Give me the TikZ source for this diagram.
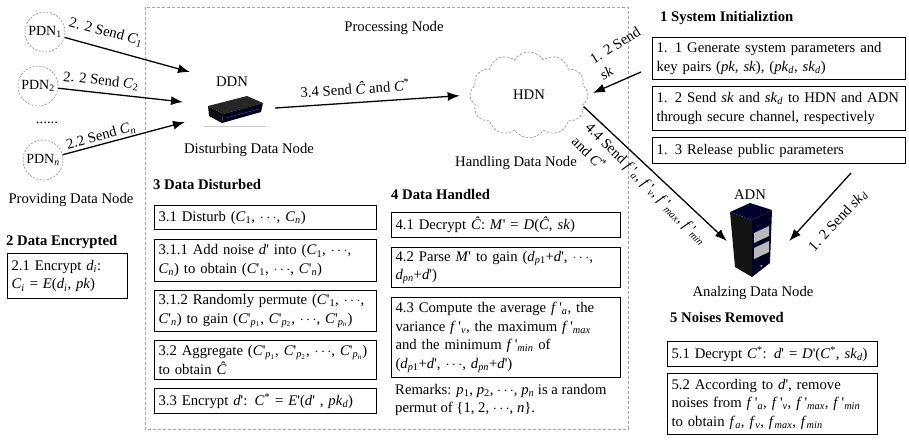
\documentclass[tikz,border=0pt]{standalone}
\usepackage{fontspec}
\setmainfont{Liberation Serif}
\usetikzlibrary{arrows.meta,shapes.symbols}

% inline notation helpers
\newcommand\itx[1]{\textit{#1}}
\newcommand\sbx[1]{\textsubscript{#1}}
\newcommand\spx[1]{\textsuperscript{#1}}
\newcommand\cds{\ensuremath{\cdots}}
\newcommand\prm{\textquotesingle}
\newcommand\cpx[1]{\itx{C}\prm\sbx{\itx{p}\sbx{#1}}}
\newcommand\fpx[1]{\itx{f}\,\prm\sbx{\itx{#1}}}
\newcommand\fs{\fontsize{14.7}{18.5}\selectfont}

\tikzset{
  box/.style={draw=black, line width=1.1pt, anchor=north west, align=left,
              inner xsep=4pt, inner ysep=1pt, font=\fs},
  hd/.style={anchor=west, font=\fs\bfseries, inner sep=0pt},
  pdn/.style={circle, draw=gray!75, dash pattern=on 2pt off 1.5pt, line width=0.7pt,
              minimum size=40pt, inner sep=0pt, font=\fontsize{14}{16}\selectfont},
  arr/.style={-{Latex[length=12pt,width=9pt]}, line width=1.3pt},
  lbl/.style={font=\fs, inner sep=1pt},
}

\begin{document}
\begin{tikzpicture}[x=1pt, y=-1pt, font=\fs]
\useasboundingbox (0,0) rectangle (909,440);

% processing region
\draw[gray!70, line width=0.8pt, dash pattern=on 3pt off 2pt] (145,7) rectangle (628,429);
\node (proc) at (394,28) {Processing Node};

% providing data nodes
\node[pdn] (p1) at (45,32) {PDN\sbx{1}};
\node[pdn] (p2) at (38,86) {PDN\sbx{2}};
\node (dots) at (47,123) {......};
\node[pdn] (pn) at (43,160) {PDN\sbx{\itx{n}}};
\node (pdnname) at (71,200) {Providing Data Node};

\coordinate (in1) at (190,72);
\coordinate (in2) at (183,102);
\coordinate (in3) at (185,122);
\draw[arr] (p1) -- (in1);
\draw[arr] (p2) -- (in2);
\draw[arr] (pn) -- (in3);
\node[lbl, rotate=-15] (l1) at (106,32) {2. 2 Send \itx{C}\sbx{1}};
\node[lbl, rotate=-6] (l2) at (101,81) {2. 2 Send \itx{C}\sbx{2}};
\node[lbl, rotate=15] (l3) at (101,136) {2.2 Send \itx{C}\sbx{\itx{n}}};

% disturbing data node (router)
\node (ddnlbl) at (232,82) {DDN};
\fill[gray!40] (204,126) rectangle (266,127);
\fill[black!85] (208,106) -- (247,96) -- (263,103) -- (223,114) -- cycle;
\fill[black!95] (208,106) -- (223,114) -- (222,123) -- (209,116) -- cycle;
\fill[black!90!blue] (223,114) -- (263,103) -- (261,112) -- (222,123) -- cycle;
\draw[blue!40!gray, line width=0.4pt] (226,118) -- (259,109);
\node[minimum width=58pt, minimum height=28pt, inner sep=0pt] (ddn) at (236,110) {};
\node (ddnname) at (249,150) {Disturbing Data Node};

% handling data node
\node[cloud, cloud puffs=12, cloud puff arc=115, aspect=1.35, draw=gray!80,
      dash pattern=on 2.5pt off 1.5pt, line width=0.7pt,
      minimum width=118pt, minimum height=86pt] (hdn) at (529,95) {HDN};
\node (hdnname) at (516,163) {Handling Data Node};

\draw[arr, shorten >=10pt] ([xshift=10pt, yshift=2pt]ddn.east) -- (hdn.west);
\node[lbl, rotate=3.5] (l34) at (355,88) {3.4 Send \itx{Ĉ} and \itx{C}\spx{*}};

% system initialization
\node[hd] (h1) at (660,18) {1 System Initializtion};
\node[box, text width=245pt, minimum height=42pt] (b11) at (652,37)
  {1. 1 Generate system parameters and\\key pairs (\itx{pk}, \itx{sk}), (\itx{pk}\sbx{\itx{d}}, \itx{sk}\sbx{\itx{d}})};
\node[box, text width=245pt, minimum height=44pt] (b12) at (652,86)
  {1. 2 Send \itx{sk} and \itx{sk}\sbx{\itx{d}} to HDN and~ADN\\through secure channel, respectively};
\node[box, text width=245pt, minimum height=26pt] (b13) at (652,137)
  {1. 3 Release public parameters};

\coordinate (s12) at (641,72);
\draw[arr, shorten >=5pt] (s12) -- (hdn.east);
\node[lbl, rotate=32, align=left] (l12) at (620,53) {1. 2 Send\\\itx{sk}};

% analyzing data node (server)
\node (adnlbl) at (750,195) {ADN};
\fill[black!70!blue!60!black] (730,212) -- (750,203) -- (772,210) -- (752,220) -- cycle;
\fill[black!92] (730,212) -- (752,220) -- (752,277) -- (735,267) -- cycle;
\fill[black!80!blue!70!black] (752,220) -- (772,210) -- (770,263) -- (752,277) -- cycle;
\fill[gray!55] (754,233) -- (769,226) -- (769,236) -- (754,243) -- cycle;
\fill[gray!55] (754,248) -- (769,241) -- (769,252) -- (754,259) -- cycle;
\fill[gray!60] (761,266) circle (1pt);
\node[minimum width=44pt, minimum height=72pt, inner sep=0pt] (adn) at (751,241) {};
\node (adnname) at (753,293) {Analzing Data Node};

\draw[arr] (hdn.-12) -- ([xshift=-2pt]adn.west);
\node[lbl, rotate=-45, anchor=north west, align=left, inner sep=0pt] (l44) at (592,121)
  {4.4 Send \fpx{a}, \fpx{v}, \fpx{max}, \fpx{min}\\[1pt]and \itx{C}\spx{*}};

\coordinate (s12d) at (851,173);
\draw[arr] (s12d) -- ([xshift=16pt]adn.east);
\node[lbl, rotate=47] (l12d) at (838,221) {1. 2 Send \itx{sk}\sbx{\itx{d}}};

% data encrypted
\node[hd] (h2) at (6,242) {2 Data Encrypted};
\node[box, text width=112pt, minimum height=45pt] (b21) at (7,253)
  {2.1 Encrypt \itx{d}\sbx{\itx{i}}:\\\itx{C}\sbx{\itx{i}} = \itx{E}(\itx{d}\sbx{\itx{i}}, \itx{pk})};

% data disturbed
\node[hd] (h3) at (153,184) {3 Data Disturbed};
\node[box, text width=214pt, minimum height=24pt] (b31) at (154,205)
  {3.1 Disturb (\itx{C}\sbx{1}, \cds, \itx{C}\sbx{\itx{n}})};
\node[box, text width=214pt, minimum height=42pt] (b311) at (154,239)
  {3.1.1 Add noise \itx{d}\prm{} into (\itx{C}\sbx{1}, \cds,\\\itx{C}\sbx{\itx{n}}) to obtain (\itx{C}\prm\sbx{1}, \cds, \itx{C}\prm\sbx{\itx{n}})};
\node[box, text width=214pt, minimum height=41pt] (b312) at (154,290)
  {3.1.2 Randomly permute (\itx{C}\prm\sbx{1}, \cds,\\\itx{C}\prm\sbx{\itx{n}}) to gain (\cpx{1}, \cpx{2}, \cds, \cpx{\itx{n}})};
\node[box, text width=214pt, minimum height=39pt] (b32) at (154,340)
  {3.2 Aggregate (\cpx{1}, \cpx{2}, \cds, \cpx{\itx{n}})\\to obtain \itx{Ĉ}};
\node[box, text width=214pt, minimum height=25pt] (b33) at (154,388)
  {3.3 Encrypt \itx{d}\prm: \itx{C}\spx{*} = \itx{E}\prm(\itx{d}\prm{} , \itx{pk}\sbx{\itx{d}})};

% data handled
\node[hd] (h4) at (391,194) {4 Data Handled};
\node[box, text width=221pt, minimum height=25pt] (b41) at (391,212)
  {4.1 Decrypt \itx{Ĉ}: \itx{M}\prm{} = \itx{D}(\itx{Ĉ}, \itx{sk})};
\node[box, text width=221pt, minimum height=40pt] (b42) at (391,247)
  {4.2 Parse \itx{M}\prm{} to gain (\itx{d}\sbx{\itx{p}1}+\itx{d}\prm, \cds,\\\itx{d}\sbx{\itx{pn}}+\itx{d}\prm)};
\node[box, text width=221pt, minimum height=80pt] (b43) at (391,297)
  {4.3 Compute the average \fpx{a}, the\\variance \fpx{v}, the maximum \fpx{max}\\and the minimum \fpx{min} of\\(\itx{d}\sbx{\itx{p}1}+\itx{d}\prm, \cds, \itx{d}\sbx{\itx{pn}}+\itx{d}\prm)};
\node[anchor=north west, align=left, inner sep=0pt] (rem) at (395,384)
  {Remarks: \itx{p}\sbx{1}, \itx{p}\sbx{2}, \cds, \itx{p}\sbx{\itx{n}} is a random\\permut of \{1, 2, \cds, \itx{n}\}.};

% noises removed
\node[hd] (h5) at (670,317) {5 Noises Removed};
\node[box, text width=202pt, minimum height=25pt] (b51) at (667,341)
  {5.1 Decrypt \itx{C}\spx{*}: \itx{d}\prm{} = \itx{D}\prm(\itx{C}\spx{*}, \itx{sk}\sbx{\itx{d}})};
\node[box, text width=202pt, minimum height=61pt] (b52) at (667,373)
  {5.2 According to \itx{d}\prm, remove\\noises from \fpx{a}, \fpx{v}, \fpx{max}, \fpx{min}\\to obtain \itx{f}\sbx{\itx{a}}, \itx{f}\sbx{\itx{v}}, \itx{f}\sbx{\itx{max}}, \itx{f}\sbx{\itx{min}}};

\end{tikzpicture}
\end{document}
